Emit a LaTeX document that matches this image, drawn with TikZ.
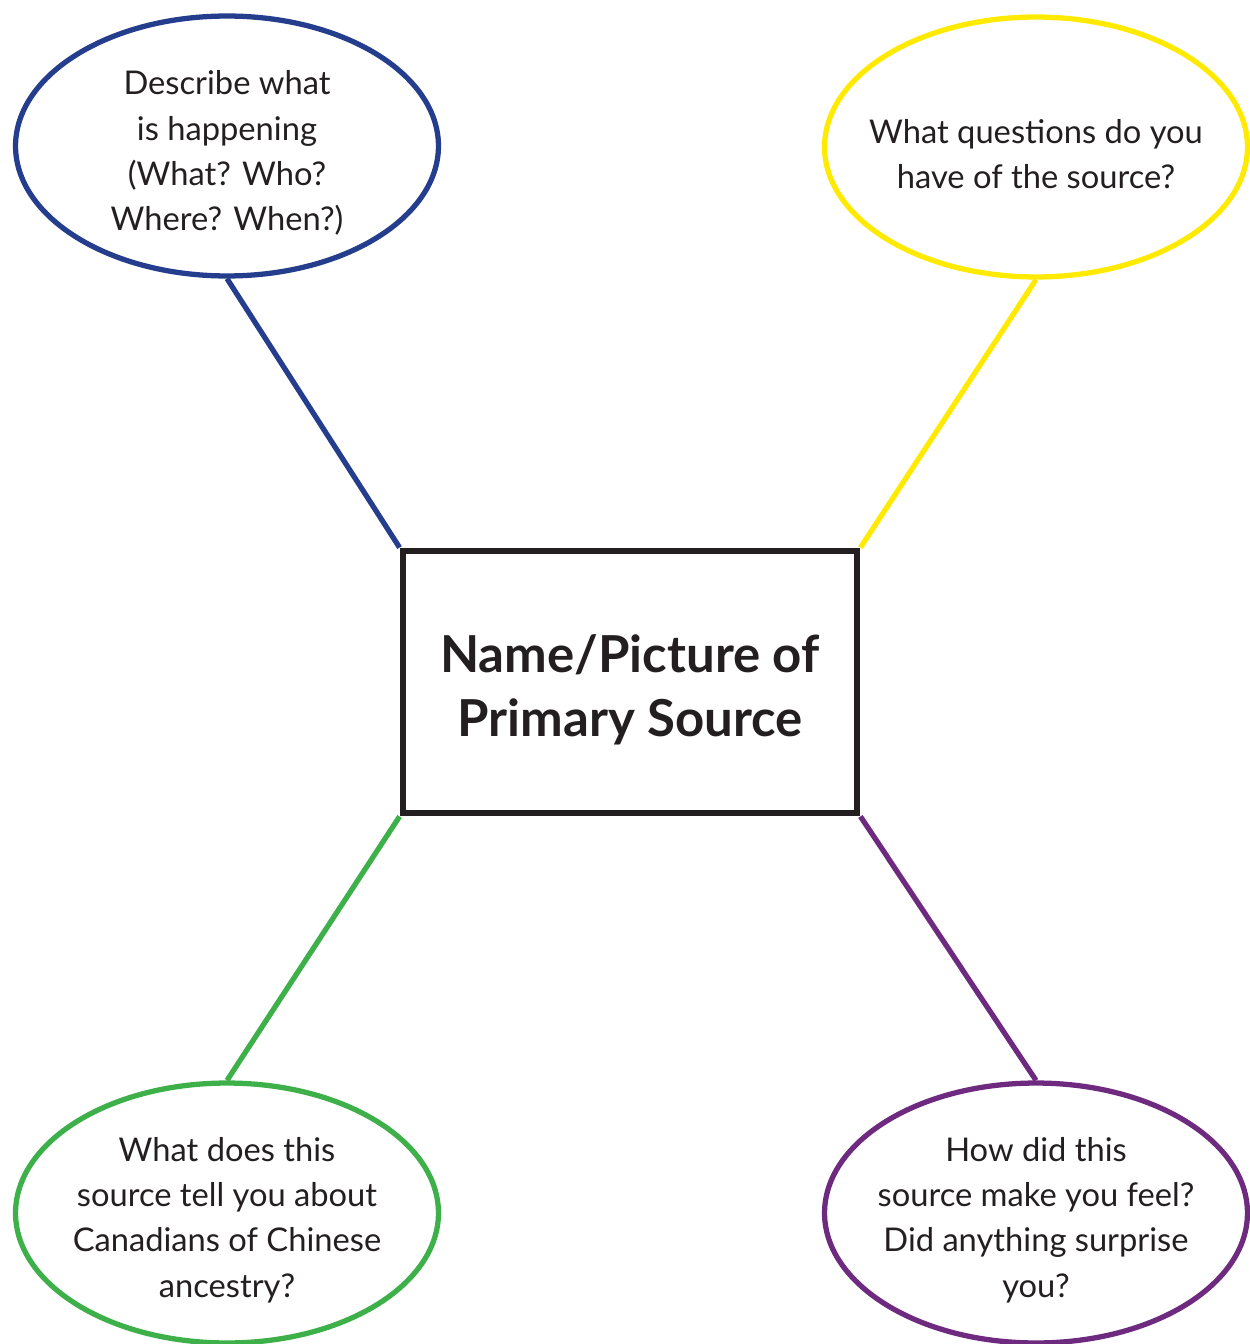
\documentclass[tikz,border=0pt]{standalone}
\usepackage{fontspec}
\setmainfont{Lato}
\usetikzlibrary{shapes.geometric}
\definecolor{ink}{HTML}{231F20}
\definecolor{bubbleblue}{HTML}{243D8C}
\definecolor{bubbleyellow}{HTML}{FFEA00}
\definecolor{bubblegreen}{HTML}{3DB04A}
\definecolor{bubblepurple}{HTML}{6E2A7F}
\begin{document}
\begin{tikzpicture}[x=0.02cm,y=-0.02cm,
  bubble/.style={ellipse,line width=3pt,minimum width=8.46cm,minimum height=5.2cm,inner sep=0pt},
  says/.style={align=center,text=ink,yshift=-4pt,font=\fontsize{18.6pt}{25.8pt}\selectfont},
  title/.style={align=center,text=ink,yshift=-4.5pt,font=\fontsize{29pt}{36.3pt}\selectfont\bfseries},
  spoke/.style={line width=3pt}]
  \useasboundingbox (0,0) rectangle (1249,1344);
  \node[draw=ink,line width=3.4pt,minimum width=9.1cm,minimum height=5.26cm,inner sep=0pt,label={[title]center:Name/Picture of\\Primary Source}] (src) at (630,682) {};
  \node[bubble,draw=bubbleblue,label={[says]center:Describe what\\is happening\\(What? Who?\\Where? When?)}] (desc) at (227,146) {};
  \node[bubble,draw=bubbleyellow,label={[says]center:What questions do you\\have of the source?}] (quest) at (1036,147) {};
  \node[bubble,draw=bubblegreen,label={[says]center:What does this\\source tell you about\\Canadians of Chinese\\ancestry?}] (tell) at (227,1213) {};
  \node[bubble,draw=bubblepurple,label={[says]center:How did this\\source make you feel?\\Did anything surprise\\you?}] (feel) at (1036,1213) {};
  \draw[spoke,bubbleblue] (desc.south) -- (src.north west);
  \draw[spoke,bubbleyellow] (quest.south) -- (src.north east);
  \draw[spoke,bubblegreen] (src.south west) -- (tell.north);
  \draw[spoke,bubblepurple] (src.south east) -- (feel.north);
\end{tikzpicture}
\end{document}
